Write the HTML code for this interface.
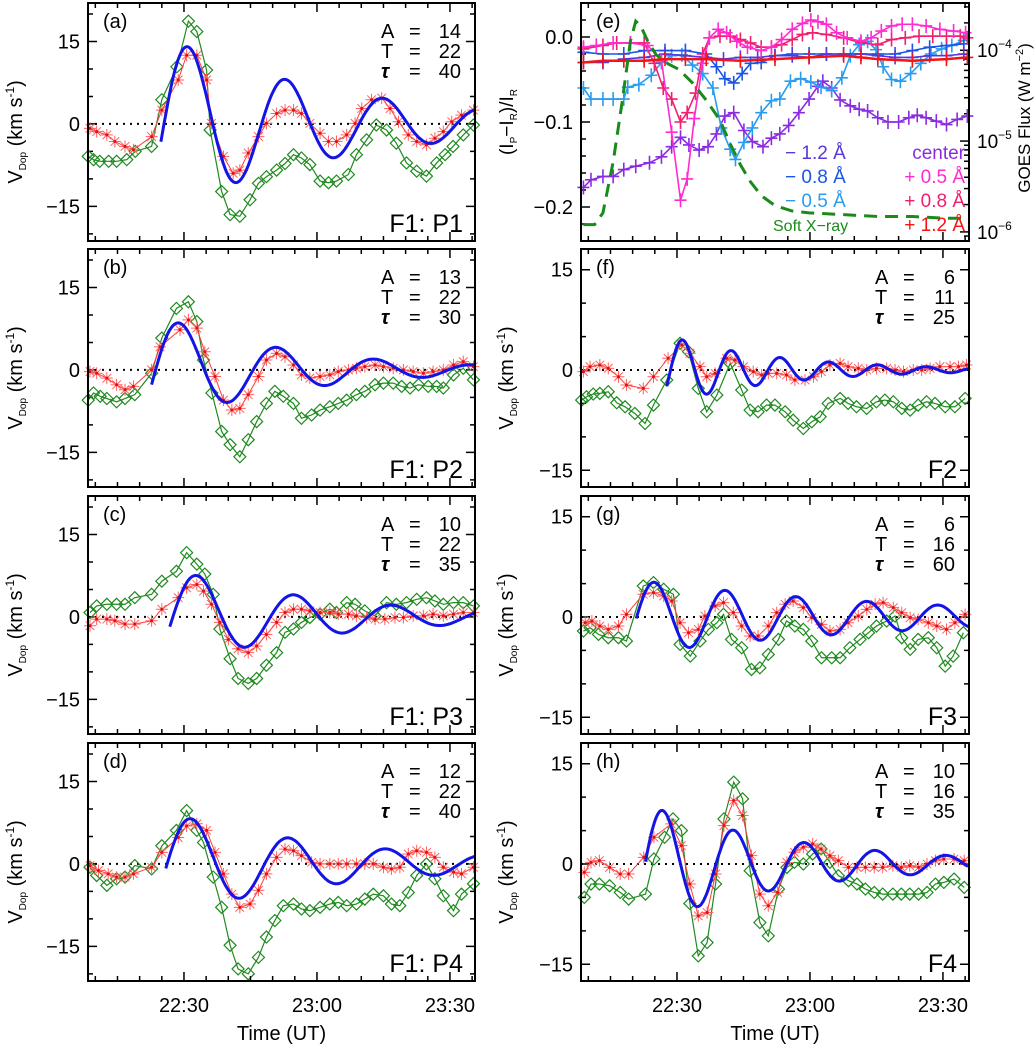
<!DOCTYPE html>
<html><head><meta charset="utf-8"><style>
html,body{margin:0;padding:0;background:#fff;}
svg{display:block;font-family:"Liberation Sans",sans-serif;}
</style></head><body>
<svg id="chart" width="1036" height="1047" viewBox="0 0 1036 1047" xmlns="http://www.w3.org/2000/svg"></svg>
<script>
// ---------- data (time in minutes after 22:00 UT, velocity in km/s) ----------
const xTickValues=[30,60,90];
const xTickLabels=['22:30','23:00','23:30'];
const vTickValues=[15,0,-15];
const vTickLabels=['15','0','\u221215'];

const aGreenT=[8.4,9.6,11.0,13.0,14.8,17.1,19.0,22.7,25.0,28.4,31.0,32.9,35.1,35.9,38.5,40.4,42.6,44.9,46.8,48.6,50.9,52.8,54.7,56.5,58.4,60.7,62.6,64.4,67.1,68.9,71.2,73.4,75.7,77.9,80.2,82.5,84.7,87.0,88.9,90.7,93.0,95.3];
const aGreenV=[-5.9,-6.5,-6.8,-6.8,-6.8,-6.5,-5.0,-4.1,4.4,10.4,18.7,16.8,9.8,-1.1,-12.3,-16.5,-16.8,-13.8,-10.8,-9.6,-8.4,-7.2,-5.6,-6.2,-7.4,-10.4,-10.7,-10.4,-9.2,-5.6,-2.9,-0.2,-1.1,-3.5,-7.1,-8.6,-9.5,-7.1,-5.6,-4.1,-2.0,-0.2];
const aRedT=[8.8,10.3,12.6,14.4,16.7,18.6,22.7,25.0,28.7,30.6,32.9,35.1,36.2,38.9,41.1,42.6,44.5,46.8,48.6,50.9,52.8,54.7,56.5,58.4,60.7,62.6,64.4,66.7,68.6,70.1,72.3,74.6,76.5,78.4,80.6,82.5,84.7,86.6,88.5,90.4,92.6,95.3];
const aRedV=[-0.8,-1.4,-2.0,-3.2,-4.1,-4.7,-2.3,2.5,8.0,12.5,12.5,8.0,0.1,-5.9,-9.0,-8.4,-5.3,-2.3,0.1,1.9,2.5,2.5,1.9,0.1,-1.7,-3.2,-3.2,-2.0,0.1,2.8,4.4,4.7,2.8,0.4,-2.0,-3.2,-3.8,-2.6,-1.4,0.4,1.6,2.5];

const bGreenT=[8.4,9.6,11.1,12.6,14.8,16.7,18.9,22.7,25.0,28.3,31.0,32.9,34.4,36.3,38.5,40.4,42.6,44.5,46.4,48.6,50.5,52.4,54.7,56.5,58.8,60.7,62.9,64.8,66.7,68.9,70.8,73.1,75.0,77.2,79.1,81.0,82.9,85.1,87.0,88.5,90.8,93.0,95.3];
const bGreenV=[-5.5,-4.2,-4.8,-5.2,-5.8,-5.2,-4.5,-0.6,5.8,11.2,12.4,8.8,1.8,-4.2,-11.2,-13.6,-15.8,-12.7,-9.4,-6.1,-3.9,-4.8,-6.1,-8.8,-8.2,-7.3,-6.7,-6.1,-5.5,-4.5,-3.9,-2.7,-2.4,-2.4,-3.0,-3.3,-2.7,-3.0,-3.0,-3.3,-0.9,0.3,-1.8];
const bRedT=[8.8,10.3,12.6,14.8,16.7,18.6,22.7,24.6,29.1,31.0,32.9,34.7,37.0,38.9,40.8,42.6,44.5,46.8,48.6,50.9,52.8,54.7,56.5,58.4,60.7,62.9,64.8,67.1,68.9,70.8,73.1,75.0,77.2,79.5,81.7,84.0,86.2,88.5,90.8,93.0,95.3];
const bRedV=[-0.3,-0.6,-1.5,-2.7,-3.6,-3.0,0,4.2,7.3,9.1,7.6,3.3,-1.2,-5.5,-7.3,-7.0,-4.5,-1.2,1.8,3.0,2.4,0.9,-0.9,-1.5,-1.2,-0.9,-0.3,0,0.3,0.6,0.9,0.6,0.3,0,-0.3,-0.6,-0.3,0,0.9,1.5,0.6];

const cGreenT=[8.8,10.3,12.6,14.8,16.7,18.9,22.7,25.0,28.3,30.6,32.9,34.7,36.6,38.1,40.4,42.2,44.5,46.4,48.6,50.9,52.8,54.7,56.5,58.4,60.7,62.9,64.4,66.7,68.6,70.8,73.1,75.7,77.9,80.2,82.5,84.7,86.6,88.5,90.8,93.0,95.3];
const cGreenV=[0.8,2.0,2.3,2.3,2.3,3.5,4.1,6.5,8.3,11.7,9.6,7.8,4.1,-2.2,-7.6,-11.2,-12.1,-11.2,-8.8,-6.5,-2.8,-2.2,-1.0,-0.1,0.5,1.4,0.8,2.6,2.3,1.1,0.2,2.6,2.3,2.6,3.2,3.5,2.9,2.3,2.6,2.6,2.0];
const cRedT=[8.8,10.3,12.6,14.4,16.7,18.9,22.7,25.0,28.7,30.6,32.9,34.4,36.2,38.1,40.0,42.2,44.5,46.4,48.6,50.9,52.8,54.7,56.5,58.4,60.7,62.9,64.8,67.1,68.9,71.2,73.1,75.3,77.6,79.5,81.7,84.0,86.2,88.5,90.8,93.0,95.3];
const cRedV=[-1.6,-0.4,-0.4,-0.7,-1.3,-1.3,-0.7,1.4,3.5,5.3,5.9,4.7,2.3,-1.0,-4.1,-5.8,-6.5,-5.3,-3.2,-1.0,0.8,1.4,1.4,1.1,0.8,0.8,0.5,0.5,0.2,-0.1,-0.4,-0.4,-0.1,-0.1,0.2,0.2,0.5,0.2,0.5,0.8,0.8];

const dGreenT=[8.8,10.3,12.6,14.8,16.7,18.9,22.7,25.0,28.3,30.6,32.9,34.4,36.6,38.5,40.4,42.2,44.5,46.8,48.6,50.5,52.4,54.7,56.5,58.4,60.7,62.9,64.8,66.7,68.9,70.8,72.7,75.0,76.8,78.7,80.6,82.5,84.7,86.6,88.5,90.8,92.6,95.3];
const dGreenV=[-0.6,-2.1,-3.9,-2.7,-2.4,-0.3,-0.9,3.3,6.1,9.7,6.1,3.9,-2.4,-7.9,-14.8,-19.1,-20.0,-17.0,-13.3,-10.3,-7.6,-7.3,-8.2,-8.5,-7.9,-7.3,-7.0,-7.6,-7.3,-6.4,-5.5,-5.8,-7.3,-7.6,-5.2,-2.1,0,-2.7,-5.8,-8.5,-5.5,-3.6];
const dRedT=[8.8,10.7,12.9,14.8,16.7,18.6,22.7,25.0,28.7,30.6,32.9,35.1,37.0,38.9,40.8,42.6,44.9,46.8,48.6,50.9,52.8,54.7,56.5,58.8,60.7,62.9,64.8,66.7,68.9,70.8,72.7,75.0,76.8,78.7,80.6,82.5,84.7,86.6,88.5,90.8,92.6,95.3];
const dRedV=[-0.3,-1.2,-1.8,-2.4,-2.4,-1.8,-0.6,2.1,4.8,6.9,7.3,6.1,2.1,-1.8,-5.5,-7.9,-7.3,-4.8,-1.8,1.2,2.7,2.4,1.5,0.3,0,0,0,0,0,0,0,-0.6,-0.9,-0.6,1.8,2.4,2.1,1.2,-0.6,-1.5,-1.8,-0.6];

const fGreenT=[8.5,9.6,11.1,12.6,14.5,16.4,18.3,20.5,22.8,24.7,27.7,30.7,32.6,34.8,36.7,39.0,42.0,44.6,46.5,48.3,50.2,52.1,54.4,56.2,58.5,60.4,62.3,64.1,66.8,68.6,70.5,72.8,75.0,76.9,78.8,80.7,82.6,84.4,86.3,88.2,90.5,92.7,95.0];
const fGreenV=[-4.5,-4.0,-3.6,-3.5,-3.25,-4.9,-5.5,-6.5,-8.0,-5.25,-1.5,4.0,2.75,-2.75,-6.25,-3.75,1.0,-3.0,-6.0,-6.25,-5.25,-5.25,-6.25,-7.5,-8.75,-7.75,-7.0,-5.0,-4.25,-5.0,-5.5,-5.75,-4.75,-4.5,-4.75,-5.75,-6.0,-5.25,-4.75,-5.0,-5.5,-5.5,-4.25];
const fRedT=[8.9,10.4,12.6,14.5,16.8,18.6,22.4,24.7,28.0,31.1,32.9,35.2,36.7,38.6,41.2,43.1,45.0,47.2,49.1,50.6,52.5,54.7,56.6,58.9,60.8,62.6,64.5,66.8,68.6,70.9,72.8,75.0,77.3,79.2,81.1,83.3,85.2,87.1,89.3,91.6,93.5,95.3];
const fRedV=[-0.25,0.5,0.75,0.25,-1.0,-2.25,-2.75,-1.0,1.75,3.75,2.5,0.5,-1.0,-0.5,1.75,1.5,0.5,-0.25,-0.75,-0.5,-0.5,-0.75,-1.5,-1.5,-1.0,-0.25,0.75,1.0,0.5,0.25,0,0.25,0.25,0,-0.25,0,0,0.25,0.5,0.5,0.5,0.75];

const gGreenT=[8.9,10.4,12.3,14.5,16.8,18.6,22.4,24.7,27.0,29.2,30.7,33.0,35.2,37.1,39.0,40.5,42.3,44.6,46.8,48.7,50.6,52.9,54.7,56.6,58.5,60.4,62.6,64.9,66.8,69.0,71.3,73.2,75.0,77.3,79.2,80.7,82.6,84.4,86.7,88.6,90.5,92.3,94.6];
const gGreenV=[-2.1,-1.6,-2.6,-3.1,-3.1,-3.6,4.65,5.15,4.15,3.4,-4.1,-5.85,-3.6,-1.85,-0.85,0.4,-3.35,-4.6,-7.85,-7.6,-5.6,-3.35,-0.6,-1.35,-1.85,-3.6,-6.1,-6.1,-6.1,-4.6,-3.35,-2.35,-1.35,-0.6,0.15,-3.1,-4.85,-3.35,-3.1,-4.6,-7.35,-5.85,-2.35];
const gRedT=[9.3,10.8,12.6,14.5,16.8,18.6,22.4,24.7,27.0,28.8,30.7,32.6,34.8,36.3,38.6,40.5,42.7,44.6,46.5,48.3,50.6,52.5,54.4,56.2,58.5,60.4,62.6,64.5,66.8,68.6,70.9,72.8,74.7,76.5,78.8,80.7,82.6,84.4,86.7,88.6,90.8,92.7,95.0];
const gRedV=[-0.85,-0.6,-1.35,-1.85,-1.35,0.4,3.4,3.65,3.15,2.4,-0.85,-2.35,-1.85,0.15,1.65,2.15,0.65,-1.35,-2.85,-2.85,-1.35,0.65,1.9,2.4,1.4,-0.1,-1.1,-2.1,-1.85,-0.85,0.15,1.15,1.9,2.15,1.4,0.65,-0.1,-0.35,-0.85,-1.35,-1.85,-0.85,0.4];

const hGreenT=[9.1,10.6,12.5,14.8,17.2,19.1,22.9,24.8,27.2,29.1,31.0,32.9,34.8,36.8,38.7,40.6,42.8,44.8,46.5,48.7,50.6,52.9,54.8,56.5,58.5,60.6,62.5,64.5,66.4,68.7,70.6,72.5,74.5,76.4,78.7,80.6,82.5,84.5,86.4,88.3,90.2,92.5,94.8];
const hGreenV=[-5.0,-3.0,-3.0,-3.25,-4.25,-5.25,-4.5,0.75,4.0,6.75,5.0,-5.9,-13.75,-11.75,-3.0,6.75,12.25,9.75,-1.0,-8.75,-10.75,-3.75,-0.5,0.25,0,1.5,2.25,0.25,-1.75,-2.5,-3.0,-3.75,-4.25,-4.5,-4.5,-4.5,-4.5,-4.5,-4.25,-3.0,-2.75,-2.25,-3.5];
const hRedT=[9.1,10.6,12.5,14.8,17.2,19.1,22.5,24.8,28.7,31.0,32.9,34.8,36.8,38.7,40.6,42.8,44.8,46.8,48.7,50.6,52.7,54.8,56.5,58.5,60.6,62.5,64.5,66.4,68.7,70.6,72.5,74.5,76.4,78.7,80.6,82.5,84.5,86.4,88.3,90.2,92.5,94.8];
const hRedV=[-1.25,0.25,0.5,-0.5,-1.5,-1.5,1.0,4.0,6.0,2.75,-3.0,-7.75,-7.25,-1.5,5.75,9.5,7.25,1.25,-4.5,-6.25,-4.25,0.25,1.75,2.5,3.0,2.25,1.25,0.5,-0.5,-0.5,-0.5,-0.5,-0.5,-0.25,-0.5,-0.25,-0.5,0,0.5,0.75,0.75,0.5];

// damped-sine fit parameters for panels a,b,c,d,f,g,h
const fitPanels=['a','b','c','d','f','g','h'];
const fitA=[14,13,10,12,6,6,10];
const fitT=[22,22,22,22,11,16,16];
const fitTau=[40,30,35,40,25,60,35];
const fitPeakV=[14,8.5,7.5,8.2,4.5,5.2,8];
const fitPeakT=[31,29.1,33,31.7,31.3,24.9,26.8];
const fitStart=[24.8,22.7,26.8,25.9,27.7,20.8,22.9];
const panelTags=['F1: P1','F1: P2','F1: P3','F1: P4','F2','F3','F4'];

// panel (e): relative intensity (Ip-IR)/IR and GOES flux
const eTicks=[0,-0.1,-0.2];
const eTickLabels=['0.0','\u22120.1','\u22120.2'];
const eCenterT=[8.9,10.6,13.3,15.6,18.0,20.7,23.8,26.5,28.8,30.8,32.7,35.0,37.0,38.9,40.8,42.8,45.1,47.0,49.4,51.3,53.2,55.2,57.5,59.8,61.8,62.9,64.9,66.8,69.1,71.1,73.0,75.3,77.6,80.0,82.3,84.2,86.2,88.5,90.8,93.2,95.5];
const eCenterV=[-0.177,-0.168,-0.164,-0.164,-0.156,-0.152,-0.148,-0.141,-0.129,-0.118,-0.127,-0.133,-0.129,-0.114,-0.093,-0.089,-0.110,-0.123,-0.129,-0.119,-0.114,-0.104,-0.089,-0.073,-0.058,-0.052,-0.060,-0.074,-0.081,-0.085,-0.087,-0.095,-0.100,-0.100,-0.095,-0.092,-0.095,-0.099,-0.103,-0.097,-0.093];
const eM05T=[8.9,10.6,13.3,15.6,18.0,18.9,21.4,24.2,26.5,28.8,31.1,33.5,35.8,38.1,40.0,42.0,43.2,45.1,47.0,49.0,51.3,53.2,55.6,57.9,60.2,62.5,64.9,67.2,69.1,71.1,73.0,74.9,76.5,78.4,80.4,82.7,85.0,87.3,89.7,92.0,94.7];
const eM05V=[-0.060,-0.073,-0.073,-0.073,-0.073,-0.059,-0.056,-0.045,-0.030,-0.022,-0.021,-0.033,-0.043,-0.060,-0.107,-0.132,-0.144,-0.124,-0.107,-0.089,-0.075,-0.073,-0.052,-0.049,-0.053,-0.059,-0.063,-0.048,-0.022,-0.009,-0.005,-0.015,-0.035,-0.050,-0.052,-0.043,-0.031,-0.020,-0.014,-0.010,-0.004];
const eM08T=[8.9,13.3,18.0,22.6,27.3,31.9,36.6,38.9,40.8,42.8,44.7,46.6,49.0,52.1,56.0,59.8,63.7,67.6,71.5,75.3,79.2,83.1,87.0,90.8,94.7];
const eM08V=[-0.018,-0.020,-0.020,-0.016,-0.016,-0.016,-0.020,-0.035,-0.049,-0.054,-0.043,-0.031,-0.030,-0.022,-0.020,-0.020,-0.020,-0.020,-0.020,-0.020,-0.020,-0.016,-0.012,-0.010,-0.008];
const eM12T=[8.9,13.3,18.0,22.6,27.3,31.9,36.6,40.5,44.3,48.2,52.1,56.0,59.8,63.7,67.6,71.5,75.3,79.2,83.1,87.0,90.8,94.7];
const eM12V=[-0.030,-0.030,-0.026,-0.024,-0.020,-0.022,-0.024,-0.026,-0.024,-0.024,-0.022,-0.022,-0.024,-0.020,-0.020,-0.020,-0.022,-0.024,-0.024,-0.022,-0.022,-0.020];
const eP05T=[8.9,11.8,15.6,19.5,23.4,26.5,28.8,30.8,32.3,33.9,35.8,37.3,39.3,41.2,43.5,45.9,49.0,51.3,53.6,56.0,58.3,60.2,61.8,63.7,66.0,68.4,71.5,73.8,76.1,78.4,80.8,83.1,86.2,89.3,92.4,95.1];
const eP05V=[-0.012,-0.010,-0.007,-0.007,-0.010,-0.028,-0.112,-0.192,-0.167,-0.096,-0.031,-0.001,0.009,0.005,-0.005,-0.012,-0.016,-0.012,-0.003,0.009,0.016,0.020,0.018,0.015,0.005,-0.001,-0.005,-0.001,0.007,0.013,0.015,0.015,0.013,0.009,0.007,0.005];
const eP08T=[8.9,13.3,16.4,19.5,22.6,24.9,26.9,28.8,30.8,32.3,34.2,35.8,37.3,39.7,42.0,44.3,46.6,49.0,51.3,53.6,56.0,58.3,60.6,63.7,67.6,71.5,75.3,78.4,81.5,84.6,87.7,90.8,93.9,95.5];
const eP08V=[-0.014,-0.010,-0.007,-0.007,-0.007,-0.031,-0.060,-0.073,-0.100,-0.089,-0.066,-0.020,-0.001,0.001,0.001,-0.003,-0.007,-0.012,-0.012,-0.009,-0.003,0.003,0.005,0.003,-0.001,-0.007,-0.009,-0.003,-0.001,0.001,0.001,0.001,0.001,-0.001];
const eP12T=[8.9,13.3,18.0,22.6,27.3,31.9,36.6,44.3,52.1,59.8,67.6,71.5,75.3,83.1,90.8,95.5];
const eP12V=[-0.030,-0.028,-0.028,-0.028,-0.026,-0.026,-0.026,-0.028,-0.026,-0.024,-0.022,-0.024,-0.026,-0.028,-0.026,-0.024];
const goesT=[8.9,11.4,13.3,15.6,17.6,19.5,20.7,21.8,23.4,25.3,28.0,30.4,33.5,36.6,39.7,42.0,44.3,46.6,49.0,52.1,56.0,59.8,67.6,75.3,83.1,90.8,95.5];
const goesLogFlux=[-5.92,-5.92,-5.79,-5.23,-4.58,-3.90,-3.68,-3.73,-3.90,-4.05,-4.15,-4.21,-4.36,-4.55,-4.77,-5.03,-5.26,-5.45,-5.60,-5.71,-5.77,-5.79,-5.81,-5.83,-5.83,-5.85,-5.85];
const goesTickExp=[-4,-5,-6];

// ---------- layout ----------
const NS='http://www.w3.org/2000/svg';
const svg=document.getElementById('chart');
function mk(tag,parent){const e=document.createElementNS(NS,tag);parent.appendChild(e);return e;}
function geo(e,o){for(const k in o)e.setAttribute(k,o[k]);return e;}
const colX=[[88,475],[581,969]];
const rowTop=[3,249,496,743];
const PH=238;
const T0=8.35, PXMIN=4.433;
const vRange=[[-21.3,22],[-17.5,18.1]];
const seriesGreen='#1f8a1f', seriesRed='#ff3a3a', fitBlue='#1414e6';

function sx(col){const x0=colX[col][0];return t=>x0+(t-T0)*PXMIN;}
function sy(col,row){const [lo,hi]=vRange[col];const top=rowTop[row];return v=>top+(hi-v)/(hi-lo)*PH;}

function frame(g,col,row){
  const [x0,x1]=colX[col];const y0=rowTop[row];
  const r=mk('rect',g);
  
  
  geo(r,{x:x0,y:y0,width:x1-x0,height:PH,fill:'none',stroke:'#000','stroke-width':2});
  const X=sx(col);
  for(let m=10;m<=95;m+=5){
    const x=X(m);if(x<x0||x>x1)continue;
    const L=(m%30===0)?9:5;
    const tk=mk('path',g);
    
    
    geo(tk,{d:`M${x},${y0+PH}v${-L}M${x},${y0}v${L}`,stroke:'#000','stroke-width':1.5});
  }
}

function velTicks(g,col,row){
  const [x0,x1]=colX[col];const Y=sy(col,row);const [lo,hi]=vRange[col];
  for(let v=-20;v<=20;v+=5){
    if(v<lo||v>hi)continue;const y=Y(v);const L=(v%15===0)?9:5;
    const tk=mk('path',g);
    
    
    geo(tk,{d:`M${x0},${y}h${L}M${x1},${y}h${-L}`,stroke:'#000','stroke-width':1.5});
  }
  vTickValues.forEach((v,i)=>{
    const t=mk('text',g);
    
    
    geo(t,{x:x0-8,y:Y(v)+7,'text-anchor':'end','font-size':20});
    t.textContent=vTickLabels[i];
  });
  const z=mk('line',g);
  
  
  geo(z,{x1:x0,x2:x1,y1:Y(0),y2:Y(0),stroke:'#000','stroke-width':2,'stroke-dasharray':'2 5'});
}

function yTitle(g,x,yc){
  const t=mk('text',g);
  
  
  geo(t,{x:x,y:yc,'text-anchor':'middle','font-size':20,transform:`rotate(-90 ${x} ${yc})`});
  t.innerHTML='V<tspan font-size="10" dy="4">Dop</tspan><tspan dy="-4">  (km s</tspan><tspan font-size="12" dy="-8">-1</tspan><tspan dy="8">)</tspan>';
}

function greenSeries(g,T,V,X,Y){
  const pl=mk('polyline',g);
  
  
  geo(pl,{points:T.map((t,i)=>X(t)+','+Y(V[i])).join(' '),fill:'none',stroke:seriesGreen,'stroke-width':1.2});
  T.forEach((t,i)=>{
    const x=X(t),y=Y(V[i]);
    const d=mk('path',g);
    
    
    geo(d,{d:`M${x},${y-6}L${x+6},${y}L${x},${y+6}L${x-6},${y}Z`,fill:'none',stroke:seriesGreen,'stroke-width':1.2});
  });
}
function redSeries(g,T,V,X,Y){
  const pl=mk('polyline',g);
  
  
  geo(pl,{points:T.map((t,i)=>X(t)+','+Y(V[i])).join(' '),fill:'none',stroke:seriesRed,'stroke-width':1});
  T.forEach((t,i)=>{
    const x=X(t),y=Y(V[i]);const r=6,q=4.3;
    const a=mk('path',g);
    
    
    geo(a,{d:`M${x-r},${y}h${2*r}M${x},${y-r}v${2*r}M${x-q},${y-q}l${2*q},${2*q}M${x-q},${y+q}l${2*q},${-2*q}`,stroke:'#ff6060','stroke-width':1,fill:'none'});
    const c=mk('circle',g);
    
    
    geo(c,{cx:x,cy:y,r:1.5,fill:'#e01010'});
  });
}
function fitCurve(g,k,X,Y,tEnd){
  let d='';
  for(let t=fitStart[k];t<=tEnd+0.001;t+=0.25){
    const v=fitPeakV[k]*Math.exp(-(t-fitPeakT[k])/fitTau[k])*Math.cos(2*Math.PI*(t-fitPeakT[k])/fitT[k]);
    d+=(d?'L':'M')+X(t).toFixed(1)+','+Y(v).toFixed(1);
  }
  const p=mk('path',g);
  
  
  geo(p,{d:d,fill:'none',stroke:fitBlue,'stroke-width':3});
}
function annot(g,k,col,row,letter){
  const [x0,x1]=colX[col];const y0=rowTop[row];
  const l=mk('text',g);
  
  
  geo(l,{x:x0+15,y:y0+25,'font-size':20});
  l.textContent='('+letter+')';
  const lines=[['A',fitA[k]],['T',fitT[k]],['\u03C4',fitTau[k]]];
  lines.forEach((ln,i)=>{
    const t=mk('text',g);
    
    
    geo(t,{x:x1-94,y:y0+35+i*20,'font-size':20});
    t.setAttribute('xml:space','preserve');
    t.innerHTML=(i===2?'<tspan font-style="italic" font-weight="bold">'+ln[0]+'</tspan>':ln[0])+'<tspan x="'+(x1-66)+'">=</tspan><tspan x="'+(x1-14)+'" text-anchor="end">'+ln[1]+'</tspan>';
  });
  const f=mk('text',g);
  
  
  geo(f,{x:x1-12,y:y0+PH-9,'text-anchor':'end','font-size':25});
  f.textContent=panelTags[k];
}

const velPanels=[
 {letter:'a',col:0,row:0,gT:aGreenT,gV:aGreenV,rT:aRedT,rV:aRedV},
 {letter:'b',col:0,row:1,gT:bGreenT,gV:bGreenV,rT:bRedT,rV:bRedV},
 {letter:'c',col:0,row:2,gT:cGreenT,gV:cGreenV,rT:cRedT,rV:cRedV},
 {letter:'d',col:0,row:3,gT:dGreenT,gV:dGreenV,rT:dRedT,rV:dRedV},
 {letter:'f',col:1,row:1,gT:fGreenT,gV:fGreenV,rT:fRedT,rV:fRedV},
 {letter:'g',col:1,row:2,gT:gGreenT,gV:gGreenV,rT:gRedT,rV:gRedV},
 {letter:'h',col:1,row:3,gT:hGreenT,gV:hGreenV,rT:hRedT,rV:hRedV}
];
velPanels.forEach(p=>{
  const g=mk('g',svg);
  
  
  const X=sx(p.col),Y=sy(p.col,p.row);
  const k=fitPanels.indexOf(p.letter);
  velTicks(g,p.col,p.row);
  greenSeries(g,p.gT,p.gV,X,Y);
  redSeries(g,p.rT,p.rV,X,Y);
  const tEnd=T0+(colX[p.col][1]-colX[p.col][0])/PXMIN;
  fitCurve(g,k,X,Y,tEnd);
  frame(g,p.col,p.row);
  annot(g,k,p.col,p.row,p.letter);
  yTitle(g,p.col===0?22:513,Y(0)+8);
});

// bottom x labels
[0,1].forEach(col=>{
  const X=sx(col);
  xTickValues.forEach((v,i)=>{
    const t=mk('text',svg);
    
    
    geo(t,{x:X(v),y:1012,'text-anchor':'middle','font-size':20});
    t.textContent=xTickLabels[i];
  });
  const tt=mk('text',svg);
  
  
  geo(tt,{x:(colX[col][0]+colX[col][1])/2,y:1040,'text-anchor':'middle','font-size':20});
  tt.textContent='Time  (UT)';
});

// ---------- panel e ----------
(function(){
  const g=mk('g',svg);
  
  
  const col=1,row=0;const [x0,x1]=colX[col];const y0=rowTop[row];
  const X=sx(col);
  const eHi=0.04,eLo=-0.24;
  const Y=v=>y0+(eHi-v)/(eHi-eLo)*PH;
  const lgHi=-3.48,lgLo=-6.1;
  const YL=l=>y0+(lgHi-l)/(lgHi-lgLo)*PH;
  // ticks left
  for(let i=-12;i<=2;i++){
    const v=i*0.02;const y=Y(v);const L=(i%5===0)?9:5;
    const tk=mk('path',g);
    
    
    geo(tk,{d:`M${x0},${y}h${L}`,stroke:'#000','stroke-width':1.5});
  }
  eTicks.forEach((v,i)=>{
    const t=mk('text',g);
    
    
    geo(t,{x:x0-8,y:Y(v)+7,'text-anchor':'end','font-size':20});
    t.textContent=eTickLabels[i];
  });
  // right log ticks
  for(let e=-7;e<=-3;e++){for(let m=1;m<=9;m++){
    const l=e+Math.log10(m);if(l<lgLo||l>lgHi)continue;
    const y=YL(l);const L=m===1?9:5;
    const tk=mk('path',g);
    
    
    geo(tk,{d:`M${x1},${y}h${-L}`,stroke:'#000','stroke-width':1.5});
  }}
  goesTickExp.forEach(e=>{
    const t=mk('text',g);
    
    
    geo(t,{x:x1+8,y:YL(e)+7,'font-size':19});
    t.innerHTML='10<tspan font-size="12" dy="-9">\u2212'+(-e)+'</tspan>';
  });
  const rt=mk('text',g);
  
  
  geo(rt,{x:1030,y:118,'text-anchor':'middle','font-size':17,transform:'rotate(-90 1030 118)'});
  rt.innerHTML='GOES Flux (W m<tspan font-size="11" dy="-7">\u22122</tspan><tspan dy="7">)</tspan>';
  const lt=mk('text',g);
  
  
  geo(lt,{x:513,y:122,'text-anchor':'middle','font-size':19,transform:'rotate(-90 513 122)'});
  lt.innerHTML='(I<tspan font-size="10" dy="4">P</tspan><tspan dy="-4">\u2212I</tspan><tspan font-size="10" dy="4">R</tspan><tspan dy="-4">)/I</tspan><tspan font-size="10" dy="4">R</tspan>';
  // series
  const series=[
    ['center',eCenterT,eCenterV,'#8a2be2'],
    ['minus-0.5',eM05T,eM05V,'#2a9cf0'],
    ['minus-0.8',eM08T,eM08V,'#1a55e6'],
    ['minus-1.2',eM12T,eM12V,'#5a36dc'],
    ['plus-0.8',eP08T,eP08V,'#f0206e'],
    ['plus-0.5',eP05T,eP05V,'#ff2ad0'],
    ['plus-1.2',eP12T,eP12V,'#f51414']
  ];
  series.forEach(s=>{
    const [nm,T,V,c]=s;
    const pl=mk('polyline',g);
    
    
    geo(pl,{points:T.map((t,i)=>X(t)+','+Y(V[i])).join(' '),fill:'none',stroke:c,'stroke-width':nm==='plus-1.2'?2.5:1.6});
    T.forEach((t,i)=>{
      const x=X(t),y=Y(V[i]);
      const m=mk('path',g);
      
      
      geo(m,{d:`M${x-6},${y}h12M${x},${y-7}v14`,stroke:c,'stroke-width':1.6});
    });
  });
  const gp=mk('polyline',g);
  
  
  geo(gp,{points:goesT.map((t,i)=>X(t)+','+YL(goesLogFlux[i])).join(' '),fill:'none',stroke:'#1a8a1a','stroke-width':3,'stroke-dasharray':'13 8'});
  frame(g,col,row);
  const pl=mk('text',g);
  
  
  geo(pl,{x:x0+15,y:y0+25,'font-size':20});
  pl.textContent='(e)';
  // legend
  const leg=[
    [785,159,'start','\u2212 1.2 \u00C5','#5a36dc'],[965,159,'end','center','#8a2be2'],
    [785,183,'start','\u2212 0.8 \u00C5','#1a55e6'],[965,183,'end','+ 0.5 \u00C5','#ff2ad0'],
    [785,207,'start','\u2212 0.5 \u00C5','#2a9cf0'],[965,207,'end','+ 0.8 \u00C5','#f0206e'],
    [773,231,'start','Soft X\u2212ray','#1a8a1a'],[965,231,'end','+ 1.2 \u00C5','#f51414']
  ];
  leg.forEach(l=>{
    const t=mk('text',g);
    
    
    geo(t,{x:l[0],y:l[1],'text-anchor':l[2],'font-size':l[3]==='Soft X\u2212ray'?16:19,fill:l[4]});
    t.textContent=l[3];
  });
})();
</script>
</body></html>
